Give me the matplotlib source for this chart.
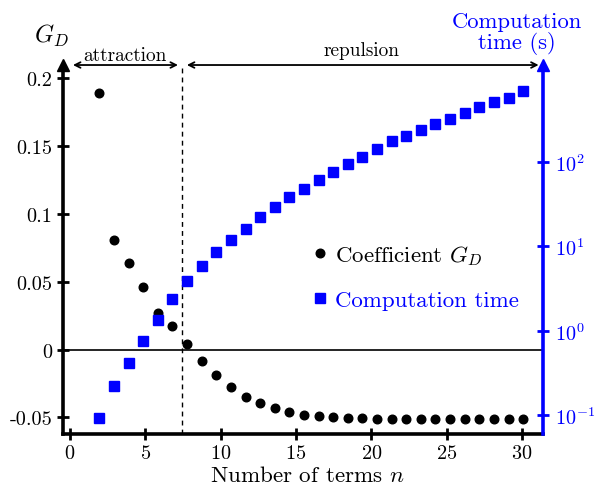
import matplotlib
matplotlib.use("Agg")
import matplotlib.pyplot as plt
from matplotlib.lines import Line2D
from matplotlib.ticker import NullLocator

plt.rcParams['font.family'] = 'serif'
plt.rcParams['font.serif'] = ['cmr10']
plt.rcParams['mathtext.fontset'] = 'cm'
plt.rcParams['axes.unicode_minus'] = False
plt.rcParams['axes.formatter.use_mathtext'] = True

# values
n_vals = [1.94, 2.92, 3.90, 4.86, 5.84, 6.79, 7.78, 8.74, 9.71, 10.66,
          11.66, 12.61, 13.59, 14.55, 15.53, 16.50, 17.47, 18.47, 19.40, 20.37,
          21.35, 22.32, 23.27, 24.24, 25.24, 26.19, 27.16, 28.14, 29.11, 30.08]
coef_gd = [0.189, 0.0807, 0.064, 0.0462, 0.0269, 0.0176, 0.0039, -0.0083, -0.0189, -0.0277,
           -0.0347, -0.0396, -0.0433, -0.046, -0.0484, -0.0492, -0.0499, -0.0504, -0.0507, -0.0508,
           -0.0508, -0.0508, -0.0508, -0.0508, -0.0508, -0.0508, -0.0508, -0.0508, -0.0508, -0.0508]
comp_time = [0.092, 0.223, 0.411, 0.761, 1.34, 2.35, 3.87, 5.88, 8.61, 11.7,
             16.1, 22.3, 29.3, 37.9, 47.5, 60.7, 76.2, 93.9, 114.6, 141,
             174, 203, 239, 279, 323, 380, 440, 505, 572, 687]

x_ticks = [0, 5, 10, 15, 20, 25, 30]
y_ticks = [-0.05, 0, 0.05, 0.1, 0.15, 0.2]
y_ticklabels = ['-0.05', '0', '0.05', '0.1', '0.15', '0.2']
t_ticks = [0.1, 1, 10, 100]
n_split = 7.45

blue = '#0000ff'

fig = plt.figure(figsize=(6, 4.89), dpi=100)
ax = fig.add_axes([0.105, 0.1104, 0.8, 0.7546])
ax2 = ax.twinx()

ax.set_xlim(-0.46, 31.39)
ax.set_ylim(-0.0622, 0.2095)
ax2.set_yscale('log')
ax2.set_ylim(10 ** -1.223, 10 ** 3.144)

ax.axhline(0, color='black', lw=1.2, zorder=1)
ax.axvline(n_split, color='black', ls=(0, (3.5, 3)), lw=1.0, zorder=1)

ax.plot(n_vals, coef_gd, 'o', color='black', ms=6.2, zorder=3)
ax2.plot(n_vals, comp_time, 's', color=blue, ms=6.5, zorder=3)

# axes look
for s in ['top', 'right']:
    ax.spines[s].set_visible(False)
for s in ['top', 'left', 'bottom']:
    ax2.spines[s].set_visible(False)
ax.spines['left'].set_linewidth(2.6)
ax.spines['bottom'].set_linewidth(2.6)
ax2.spines['right'].set_linewidth(2.6)
ax2.spines['right'].set_color(blue)

ax.set_xticks(x_ticks)
ax.set_yticks(y_ticks)
ax.set_yticklabels(y_ticklabels)
ax.tick_params(axis='both', direction='inout', length=9, width=2, labelsize=14.6)
ax.tick_params(axis='x', pad=3)
ax.tick_params(axis='y', pad=3)
ax2.set_yticks(t_ticks)
ax2.yaxis.set_minor_locator(NullLocator())
ax2.tick_params(axis='y', direction='inout', length=9, width=2, colors=blue,
                labelsize=14.6, pad=4)

# arrow heads on the vertical axes
ax.plot(0, 1.0, marker='^', color='black', ms=9, transform=ax.transAxes, clip_on=False)
ax.plot(1, 1.0, marker='^', color=blue, ms=9, transform=ax.transAxes, clip_on=False)

# attraction / repulsion arrows
ax.annotate('', xy=(0.2, 1), xytext=(7.17, 1), xycoords=('data', 'axes fraction'),
            arrowprops=dict(arrowstyle='<->', lw=1.3, color='black', shrinkA=0, shrinkB=0),
            annotation_clip=False)
ax.annotate('', xy=(7.76, 1), xytext=(31.1, 1), xycoords=('data', 'axes fraction'),
            arrowprops=dict(arrowstyle='<->', lw=1.3, color='black', shrinkA=0, shrinkB=0),
            annotation_clip=False)
ax.text(3.65, 1.0136, 'attraction', transform=ax.get_xaxis_transform(),
        ha='center', va='baseline', size=13.9)
ax.text(19.36, 1.027, 'repulsion', transform=ax.get_xaxis_transform(),
        ha='center', va='baseline', size=13.9)

# axis labels
fig.text(51 / 600, 1 - 43 / 489, '$G_D$', ha='center', va='baseline', size=17.5)
fig.text(517 / 600, 1 - 49 / 489, 'Computation\ntime (s)', ha='center', va='baseline',
         size=16.3, color=blue, linespacing=1.0)
fig.text(307.5 / 600, 7 / 489, 'Number of terms $n$', ha='center', va='baseline', size=16.6)

handles = [Line2D([], [], marker='o', ls='none', color='black', ms=6.2),
           Line2D([], [], marker='s', ls='none', color=blue, ms=6.5)]
ax2.legend(handles, ['Coefficient $G_D$', 'Computation time'], loc='upper left',
           bbox_to_anchor=(0.521, 0.517), frameon=False, fontsize=16.5,
           handlelength=0.6, handletextpad=0.35, labelspacing=1.0,
           borderpad=0, borderaxespad=0, labelcolor=['black', blue])

fig.savefig('out.png', dpi=100)
